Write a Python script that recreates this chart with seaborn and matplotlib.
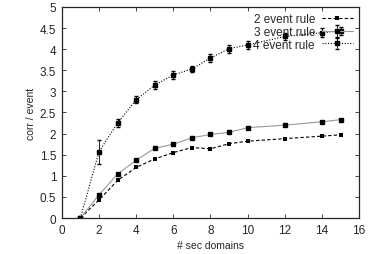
import matplotlib
matplotlib.use("Agg")
import matplotlib.pyplot as plt
import numpy as np
import pandas as pd
import seaborn as sns

# values
sec_domains = [1, 2, 3, 4, 5, 6, 7, 8, 9, 10, 12, 14, 15]
rule2 = [0, 0.43, 0.89, 1.20, 1.40, 1.55, 1.67, 1.64, 1.76, 1.82, 1.88, 1.94, 1.97]
rule3 = [0, 0.55, 1.04, 1.37, 1.65, 1.75, 1.90, 1.98, 2.03, 2.14, 2.20, 2.28, 2.33]
rule4 = [0, 1.57, 2.25, 2.80, 3.15, 3.39, 3.53, 3.79, 4.01, 4.10, 4.30, 4.39, 4.43]
rule4_err = [0, 0.29, 0.09, 0.08, 0.09, 0.10, 0.08, 0.09, 0.09, 0.09, 0.09, 0.10, 0.10]
rule3_err = [0, 0.02, 0.02, 0.02, 0.02, 0.02, 0.02, 0.02, 0.02, 0.02, 0.02, 0.02, 0.02]

sns.set_style("ticks")
plt.rcParams["font.family"] = ["Liberation Sans", "DejaVu Sans"]

df = pd.DataFrame({"x": sec_domains, "r2": rule2, "r3": rule3, "r4": rule4})

fig = plt.figure(figsize=(3.68, 2.55), dpi=100)
ax = fig.add_axes([0.168, 0.141, 0.808, 0.828])

sns.lineplot(data=df, x="x", y="r2", ax=ax, color="black", linestyle=(0, (3, 2)),
             linewidth=0.8, marker="s", markersize=2.5, markeredgewidth=0,
             label="2 event rule")
ax.errorbar(sec_domains, rule3, yerr=rule3_err, color="#999999", linewidth=0.8,
            marker="s", markersize=3.2, markerfacecolor="black", markeredgecolor="black",
            ecolor="black", elinewidth=0.6, capsize=1.2, label="3 event rule")
ax.errorbar(sec_domains, rule4, yerr=rule4_err, color="black", linestyle=(0, (1, 1.5)),
            linewidth=0.8, marker="s", markersize=3.2, markerfacecolor="black",
            ecolor="black", elinewidth=0.6, capsize=1.2, label="4 event rule")

ax.set_xlim(0, 16)
ax.set_ylim(0, 5)
ax.set_xticks(np.arange(0, 17, 2))
ax.set_yticks(np.arange(0, 5.01, 0.5))
ax.set_yticklabels(["0", "0.5", "1", "1.5", "2", "2.5", "3", "3.5", "4", "4.5", "5"])
ax.tick_params(direction="in", length=3, width=0.6, labelsize=8.5,
               top=True, right=True, pad=4)
for s in ax.spines.values():
    s.set_visible(True)
    s.set_linewidth(0.9)
ax.set_xlabel("# sec domains", fontsize=7.5, labelpad=3)
ax.set_ylabel("corr / event", fontsize=7.5, labelpad=3)

ax.legend(loc="upper right", frameon=False, markerfirst=False, fontsize=8.5,
          handlelength=2.6, borderaxespad=0.15, labelspacing=0.05, handletextpad=0.6)

fig.savefig("out.png", dpi=100)
